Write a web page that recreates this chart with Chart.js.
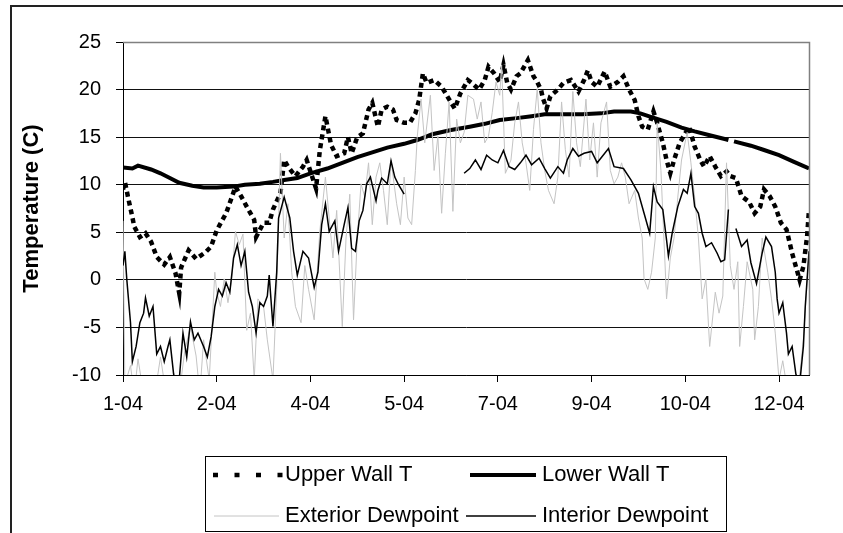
<!DOCTYPE html>
<html>
<head>
<meta charset="utf-8">
<title>Wall temperature and dewpoint 2004</title>
<script src="https://cdn.jsdelivr.net/npm/chart.js@4/dist/chart.umd.min.js"></script>
<style>
  html, body { margin: 0; padding: 0; background: #fff; }
  #wrap { width: 843px; height: 533px; }
</style>
</head>
<body>
<div id="wrap"><canvas id="wallChart" width="843" height="533"></canvas></div>
<script>
// x values are days since 1 Jan 2004
const tickDays = [0, 50, 100, 150, 200, 250, 300, 350];
const tickLabels = ["1-04", "2-04", "4-04", "5-04", "7-04", "9-04", "10-04", "12-04"];
const yTicks = [-10, -5, 0, 5, 10, 15, 20, 25];

const seriesNames = ["Upper Wall T", "Lower Wall T", "Exterior Dewpoint", "Interior Dewpoint"];

// Upper Wall T
const upperDays = [0, 1, 3, 5, 6, 9, 12, 15, 18, 22, 25, 28, 30, 31, 35, 39, 44, 47, 50, 55, 57, 60, 63, 66, 70, 71, 75, 78, 80, 84,
  86, 88, 92, 96, 98, 103, 105, 108, 111, 114, 118, 120, 122, 125, 128, 131, 133, 136, 138, 141, 144, 146, 150, 153, 156, 158, 160, 162, 166, 170,
  173, 177, 180, 184, 186, 190, 193, 195, 198, 201, 203, 205, 207, 210, 212, 216, 219, 221, 223, 224, 226, 228, 232, 235, 239, 243, 246, 248, 250, 253,
  257, 260, 264, 267, 270, 273, 275, 277, 280, 283, 285, 288, 290, 292, 294, 297, 300, 302, 305, 308, 310, 313, 316, 319, 322, 324, 327, 330, 334, 337,
  340, 342, 345, 348, 351, 354, 357, 359, 361, 363, 365, 366];
const upperTemps = [9.5, 10.3, 8.4, 6.6, 5.6, 4.5, 4.9, 4.0, 2.4, 1.6, 2.4, 0.7, -1.4, 1.3, 3.1, 2.2, 2.9, 3.5, 5.2, 7.0, 8.1, 9.8, 8.8, 7.7, 6.3, 4.5, 6.0, 6.0, 7.4, 9.1,
  12.6, 11.9, 10.9, 11.9, 12.6, 9.6, 13.6, 17.2, 14.2, 13.0, 13.3, 15.0, 13.3, 15.0, 15.4, 17.9, 18.6, 16.1, 17.9, 18.2, 17.9, 16.8, 16.5, 16.5, 17.5, 18.9, 21.7, 20.7, 21.0, 20.3,
  19.3, 18.0, 19.6, 21.0, 20.7, 20.0, 21.0, 22.4, 21.7, 20.8, 22.6, 20.7, 20.0, 21.4, 21.7, 23.1, 21.4, 20.8, 20.0, 19.1, 18.0, 19.3, 20.0, 20.7, 21.0, 19.8, 21.0, 22.0, 20.8, 20.3,
  21.9, 20.3, 20.8, 21.4, 20.0, 18.9, 17.2, 16.1, 15.8, 17.7, 16.5, 14.4, 12.6, 11.2, 12.6, 14.4, 15.4, 16.1, 14.0, 12.6, 11.9, 13.0, 11.9, 10.9, 11.4, 10.9, 10.7, 8.8, 8.2, 7.0,
  7.7, 9.5, 8.8, 7.7, 6.0, 5.3, 2.8, 1.4, 0.0, 1.4, 4.6, 7.4];

// Lower Wall T
const lowerDays = [0, 5, 8, 15, 20, 25, 30, 37, 43, 50, 59, 65, 73, 80, 86, 93, 100, 109, 117, 125, 133, 141, 150, 157, 165, 175,
  185, 193, 201, 210, 218, 225, 235, 245, 255, 262, 271, 276, 282, 290, 298, 305, 313, 321, 323, 324, 326, 335, 342, 350, 358, 366];
const lowerTemps = [11.8, 11.7, 12.0, 11.6, 11.2, 10.7, 10.2, 9.9, 9.7, 9.7, 9.8, 10.0, 10.1, 10.3, 10.5, 10.7, 11.2, 11.7, 12.3, 12.9, 13.4, 13.9, 14.3, 14.7, 15.3, 15.75,
  16.1, 16.4, 16.8, 17.0, 17.2, 17.4, 17.4, 17.4, 17.5, 17.7, 17.7, 17.5, 17.1, 16.6, 16.0, 15.6, 15.2, 14.8, 14.7, null, 14.55, 14.1, 13.65, 13.1, 12.4, 11.7];

// Exterior Dewpoint
const extDays = [0, 1, 4, 6, 8, 11, 14, 17, 20, 23, 27, 30, 33, 36, 39, 41, 43, 46, 49, 50, 52, 54, 56, 58, 60, 62, 64, 66, 68, 70,
  72, 75, 77, 80, 82, 84, 86, 88, 90, 92, 95, 97, 99, 102, 105, 108, 110, 112, 114, 117, 119, 121, 123, 125, 127, 129, 131, 133, 135, 137,
  139, 141, 143, 146, 148, 150, 152, 154, 156, 157, 159, 161, 164, 166, 168, 170, 172, 174, 176, 178, 180, 182, 184, 187, 189, 191, 193, 195, 197, 199,
  201, 202, 204, 207, 209, 211, 213, 215, 217, 219, 221, 223, 225, 227, 230, 232, 234, 236, 238, 240, 242, 244, 247, 249, 251, 253, 255, 258, 260, 262,
  264, 266, 268, 270, 273, 275, 277, 278, 280, 282, 284, 285, 287, 290, 292, 294, 296, 298, 301, 303, 305, 307, 309, 311, 313, 316, 318, 320, 322, 324,
  326, 328, 329, 331, 333, 336, 337, 339, 341, 344, 346, 348, 350, 352, 354, 357, 360, 363, 366];
const extTemps = [6.2, -11, -9, -12, -8.3, -12, -11, -12, -8.1, -12, -11, -12, -7.4, -4.9, -8, -12, -6.3, -10.5, 0.8, -1.3, -2.8, 0.1, -2.4, 0.1, 5.1, 3.7, 4.8, -5.3, -3.5, -10.5,
  -2.0, -2.8, -6.3, -10.5, -1.0, 13.3, 4.4, 8.0, 0.8, -2.8, -4.5, 1.5, -1.0, -4.2, 5.1, 10.8, 6.5, 2.3, 7.3, -4.9, 4.4, 9.0, -4.2, 4.4, 10.1, 8.7, 12.3, 5.8, 10.8, 12.3,
  9.4, 5.8, 12.6, 8.0, 5.8, 10.8, 6.5, 5.8, 11.5, 15.1, 19.0, 14.4, 19.4, 11.5, 15.1, 7.0, 13.3, 18.7, 7.2, 16.9, 14.4, 15.5, 19.4, 19.0, 16.9, 18.7, 14.4, 15.1, 17.6, 20.8,
  19.4, 22.6, 11.2, 12.6, 16.5, 18.7, 14.4, 12.3, 9.4, 15.8, 20.1, 14.4, 11.5, 9.4, 8.0, 10.8, 18.7, 13.7, 10.8, 19.8, 14.4, 11.9, 19.0, 12.6, 16.5, 10.8, 16.5, 18.7, 11.5, 10.1,
  10.8, 12.3, 10.8, 8.0, 9.4, 6.5, 4.4, 0.1, -1.0, 0.8, 4.4, 16.5, 11.5, -2.0, 2.3, 4.4, 8.7, 12.6, 15.5, 12.3, 8.7, 4.4, -2.0, 0.1, -7.0, -1.3, -3.5, -1.7, 12.3, 1.5,
  -1.0, 1.9, -7.0, -2.8, 1.9, -1.0, -6.3, -2.8, 4.4, 0.8, -2.0, -5.6, -10.5, -8.5, -11, -12, -12, -6.3, 3.0];

// Interior Dewpoint
const intDays = [0, 1, 2, 4, 5, 7, 9, 11, 12, 14, 16, 18, 20, 22, 24, 25, 27, 29, 30, 32, 34, 36, 38, 40, 43, 45, 47, 49, 51, 53,
  55, 57, 59, 61, 63, 65, 67, 69, 71, 73, 75, 77, 78, 80, 82, 83, 86, 89, 91, 93, 96, 99, 102, 104, 106, 108, 110, 113, 115, 118,
  120, 122, 124, 126, 128, 130, 132, 135, 136, 138, 141, 143, 145, 147, 150, 165, 182, 185, 188, 191, 194, 197, 200, 203, 206, 209, 212, 215, 218, 222,
  225, 228, 232, 235, 237, 240, 243, 246, 250, 253, 259, 262, 267, 271, 275, 278, 281, 283, 285, 288, 290, 291, 293, 296, 299, 301, 303, 305, 307, 309,
  311, 314, 317, 319, 321, 323, 325, 327, 330, 333, 335, 338, 341, 343, 346, 348, 349, 350, 352, 354, 355, 357, 359, 361, 363, 364, 366];
const intTemps = [1.5, 3.0, 0.1, -4.5, -8.6, -7.0, -4.5, -3.5, -1.9, -3.8, -2.8, -7.8, -7.0, -8.6, -7.0, -6.3, -9.9, -11.5, -10.5, -5.6, -8.1, -4.4, -6.3, -5.6, -7.0, -8.1, -6.0, -2.8, -1.0, -1.7,
  -0.3, -1.3, 2.3, 3.7, 1.5, 3.0, -1.3, -2.8, -5.6, -2.4, -2.8, -1.7, 0.5, -4.9, 0.8, 6.5, 8.7, 6.5, 3.0, 0.5, 3.0, 2.3, -0.8, 0.8, 5.8, 8.0, 5.1, 6.2, 3.0, 5.8,
  7.6, 3.3, 3.0, 6.2, 7.3, 10.1, 10.8, 8.3, 9.4, 10.7, 10.1, 12.5, 10.8, 10.0, 9.0, null, 11.2, 11.7, 12.6, 11.6, 13.1, 12.6, 12.3, 13.6, 11.9, 11.6, 12.3, 13.1, 12.1, 12.8,
  11.7, 10.7, 11.9, 11.2, 12.6, 13.8, 13.0, 13.3, 13.5, 12.3, 13.8, 11.9, 11.7, 10.5, 9.1, 7.0, 4.9, 9.8, 8.2, 7.4, 4.2, 2.5, 4.9, 7.7, 9.5, 9.1, 11.2, 7.7, 7.0, 4.9,
  3.5, 3.9, 2.8, 1.9, 2.1, 7.4, null, 5.4, 3.5, 4.2, 1.8, -0.4, 2.8, 4.5, 3.5, 0.8, -2.0, -3.5, -2.4, -5.6, -7.8, -7.0, -9.9, -11, -7.0, -2.8, 3.0];

function toPoints(days, temps) {
  return days.map((d, i) => ({ x: d, y: temps[i] }));
}

const FONT = "'Liberation Sans', Arial, sans-serif";

// Excel-like frame: outer chart border, gray plot border on top/right
const framePlugin = {
  id: "frame",
  beforeDraw(chart) {
    const ctx = chart.ctx;
    ctx.save();
    ctx.fillStyle = "#fff";
    ctx.fillRect(0, 0, chart.width, chart.height);
    ctx.strokeStyle = "#222";
    ctx.lineWidth = 2;
    ctx.strokeRect(11, 6, 1000, 1000);
    ctx.restore();
  },
  afterDatasetsDraw(chart) {
    const { ctx, chartArea: a } = chart;
    ctx.save();
    ctx.strokeStyle = "#808080";
    ctx.lineWidth = 1.5;
    ctx.beginPath();
    ctx.moveTo(a.left, a.top + 0.5);
    ctx.lineTo(a.right + 0.5, a.top + 0.5);
    ctx.lineTo(a.right + 0.5, a.bottom);
    ctx.stroke();
    ctx.restore();
  }
};

// legend box below the axis, two columns like the Excel original
const legendPlugin = {
  id: "boxLegend",
  afterDraw(chart) {
    const ctx = chart.ctx;
    const slots = [
      { x0: 213, x1: 283, tx: 285, y: 475, dash: [5, 16.5] },
      { x0: 470, x1: 536, tx: 542, y: 475 },
      { x0: 214, x1: 279, tx: 285, y: 516 },
      { x0: 466, x1: 536, tx: 542, y: 516 }
    ];
    ctx.save();
    ctx.strokeStyle = "#000";
    ctx.lineWidth = 1;
    ctx.strokeRect(205.5, 456.5, 521, 75);

    ctx.font = "22px " + FONT;
    ctx.textBaseline = "middle";
    ctx.fillStyle = "#000";
    chart.data.datasets.forEach((ds, i) => {
      const s = slots[i];
      ctx.save();
      ctx.strokeStyle = ds.borderColor;
      ctx.lineWidth = ds.borderWidth;
      ctx.setLineDash(s.dash || []);
      ctx.beginPath();
      ctx.moveTo(s.x0, s.y);
      ctx.lineTo(s.x1, s.y);
      ctx.stroke();
      ctx.restore();
      ctx.fillText(ds.label, s.tx, s.y);
    });
    ctx.restore();
  }
};

const datasets = [
  { label: seriesNames[0], data: toPoints(upperDays, upperTemps), borderColor: "#000", borderWidth: 4.5, borderDash: [5, 4], order: 4 },
  { label: seriesNames[1], data: toPoints(lowerDays, lowerTemps), borderColor: "#000", borderWidth: 4, order: 3 },
  { label: seriesNames[2], data: toPoints(extDays, extTemps), borderColor: "#c4c4c4", borderWidth: 1, order: 2 },
  { label: seriesNames[3], data: toPoints(intDays, intTemps), borderColor: "#000", borderWidth: 1.5, order: 1 }
].map(ds => Object.assign({ pointRadius: 0, tension: 0, fill: false, spanGaps: false }, ds));

new Chart(document.getElementById("wallChart"), {
  type: "line",
  data: { datasets },
  options: {
    responsive: false,
    animation: false,
    devicePixelRatio: 1,
    layout: { padding: { top: 42, right: 34, left: 0, bottom: 0 } },
    plugins: { legend: { display: false }, tooltip: { enabled: false } },
    scales: {
      x: {
        type: "linear",
        min: 0,
        max: 366,
        afterBuildTicks: s => { s.ticks = tickDays.map(v => ({ value: v })); },
        afterFit: s => { s.height = 158; },
        ticks: {
          autoSkip: false,
          maxRotation: 0,
          padding: 10,
          color: "#000",
          font: { family: FONT, size: 20 },
          callback: v => tickLabels[tickDays.indexOf(v)]
        },
        grid: { drawOnChartArea: false, drawTicks: true, tickLength: 7, color: "#000" },
        border: { color: "#000", width: 1 }
      },
      y: {
        min: yTicks[0],
        max: yTicks[yTicks.length - 1],
        afterBuildTicks: s => { s.ticks = yTicks.map(v => ({ value: v })); },
        afterFit: s => { s.width = 123; },
        ticks: {
          padding: 15,
          color: "#000",
          font: { family: FONT, size: 20 }
        },
        grid: {
          color: c => (c.tick && c.tick.value === 25 ? "#808080" : "#111"),
          tickColor: "#000",
          drawTicks: true,
          tickLength: 7
        },
        border: { color: "#000", width: 1 },
        title: {
          display: true,
          text: "Temperature (C)",
          color: "#000",
          font: { family: FONT, size: 22, weight: "bold" },
          padding: { top: 19, bottom: 0 }
        }
      }
    }
  },
  plugins: [framePlugin, legendPlugin]
});
</script>
</body>
</html>
